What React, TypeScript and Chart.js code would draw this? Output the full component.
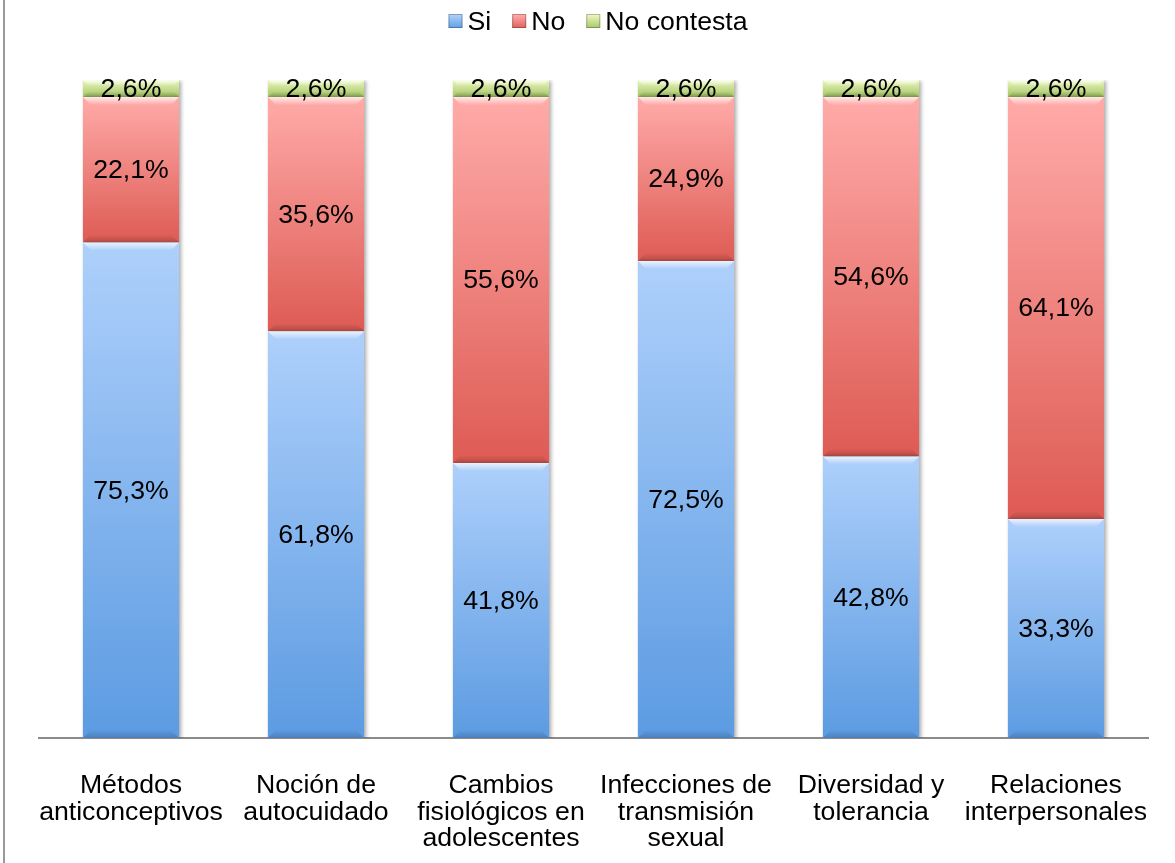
import React, { useEffect, useRef } from "react";
import { Chart, registerables } from "chart.js";

Chart.register(...registerables);

const categories: string[][] = [
  ["Métodos", "anticonceptivos"],
  ["Noción de", "autocuidado"],
  ["Cambios", "fisiológicos en", "adolescentes"],
  ["Infecciones de", "transmisión", "sexual"],
  ["Diversidad y", "tolerancia"],
  ["Relaciones", "interpersonales"],
];
const siValues = [75.3, 61.8, 41.8, 72.5, 42.8, 33.3];
const noValues = [22.1, 35.6, 55.6, 24.9, 54.6, 64.1];
const ncValues = [2.6, 2.6, 2.6, 2.6, 2.6, 2.6];
const seriesNames = ["Si", "No", "No contesta"];

const allSeries = [siValues, noValues, ncValues];
const gradStops: [string, string][] = [
  ["#aed0fb", "#5c9be2"],
  ["#ffaba9", "#de5b54"],
  ["#ecf7c0", "#a3c463"],
];
const FONT = '"Liberation Sans", Arial, sans-serif';
const FS = 26.67;

function makeBg(ds: number) {
  return (ctx: any) => {
    const chart = ctx.chart;
    const scales = chart.scales;
    if (!chart.chartArea || !scales || !scales.y || ctx.dataIndex === undefined) return gradStops[ds][1];
    const i = ctx.dataIndex;
    let base = 0;
    for (let k = 0; k < ds; k++) base += allSeries[k][i];
    const top = base + allSeries[ds][i];
    const y0 = scales.y.getPixelForValue(top);
    const y1 = scales.y.getPixelForValue(base);
    const g = chart.ctx.createLinearGradient(0, y0, 0, y1);
    g.addColorStop(0, gradStops[ds][0]);
    g.addColorStop(1, gradStops[ds][1]);
    return g;
  };
}

const frame = {
  id: "frame",
  beforeDraw(chart: any) {
    const c = chart.ctx;
    c.save();
    c.fillStyle = "#fff";
    c.fillRect(0, 0, chart.width, chart.height);
    c.strokeStyle = "#9a9a9a";
    c.lineWidth = 2;
    c.beginPath();
    c.moveTo(4, 0);
    c.lineTo(4, chart.height);
    c.stroke();
    c.restore();
  },
};

const customLegend = {
  id: "customLegend",
  afterDraw(chart: any) {
    const c = chart.ctx;
    c.save();
    c.font = `${FS}px ${FONT}`;
    c.textBaseline = "middle";
    c.textAlign = "left";
    const box = 14;
    const gapText = 5;
    const gapItem = 21;
    const widths = seriesNames.map((n) => box + gapText + c.measureText(n).width);
    const total = widths.reduce((a, b) => a + b, 0) + gapItem * (seriesNames.length - 1);
    let x = 598 - total / 2;
    const cy = 22;
    seriesNames.forEach((n, i) => {
      const g = c.createLinearGradient(0, cy - 7, 0, cy + 7);
      g.addColorStop(0, gradStops[i][0]);
      g.addColorStop(1, gradStops[i][1]);
      c.fillStyle = g;
      c.fillRect(x, cy - 8, box, box);
      c.strokeStyle = "rgba(0,0,0,0.25)";
      c.lineWidth = 1;
      c.strokeRect(x + 0.5, cy - 7.5, box - 1, box - 1);
      c.fillStyle = "#000";
      c.fillText(n, x + box + gapText, cy + 1);
      x += widths[i] + gapItem;
    });
    c.restore();
  },
};

const shadow = {
  id: "barShadow",
  beforeDatasetDraw(chart: any) {
    const c = chart.ctx;
    c.save();
    c.shadowColor = "rgba(0,0,0,0.35)";
    c.shadowBlur = 4;
    c.shadowOffsetX = 2;
    c.shadowOffsetY = 1;
  },
  afterDatasetDraw(chart: any) {
    chart.ctx.restore();
  },
};

const bevel = {
  id: "bevel",
  afterDatasetsDraw(chart: any) {
    const c = chart.ctx;
    c.save();
    chart.data.datasets.forEach((_: any, di: number) => {
      const meta = chart.getDatasetMeta(di);
      meta.data.forEach((el: any) => {
        const x0 = el.x - el.width / 2;
        const x1 = el.x + el.width / 2;
        const top = Math.min(el.y, el.base);
        const bot = Math.max(el.y, el.base);
        const h = bot - top;
        const bw = Math.min(8, h / 3);
        const gt = c.createLinearGradient(0, top, 0, top + bw);
        gt.addColorStop(0, "rgba(255,255,255,0.75)");
        gt.addColorStop(1, "rgba(255,255,255,0)");
        c.fillStyle = gt;
        c.beginPath();
        c.moveTo(x0, top);
        c.lineTo(x1, top);
        c.lineTo(x1 - bw, top + bw);
        c.lineTo(x0 + bw, top + bw);
        c.closePath();
        c.fill();
        const gb = c.createLinearGradient(0, bot - bw, 0, bot);
        gb.addColorStop(0, "rgba(0,0,0,0)");
        gb.addColorStop(1, "rgba(0,0,0,0.18)");
        c.fillStyle = gb;
        c.beginPath();
        c.moveTo(x0, bot);
        c.lineTo(x1, bot);
        c.lineTo(x1 - bw, bot - bw);
        c.lineTo(x0 + bw, bot - bw);
        c.closePath();
        c.fill();
      });
    });
    c.restore();
  },
};

const valueLabels = {
  id: "valueLabels",
  afterDatasetsDraw(chart: any) {
    const c = chart.ctx;
    c.save();
    c.font = `${FS}px ${FONT}`;
    c.fillStyle = "#000";
    c.textAlign = "center";
    c.textBaseline = "middle";
    chart.data.datasets.forEach((ds: any, di: number) => {
      const meta = chart.getDatasetMeta(di);
      meta.data.forEach((el: any, i: number) => {
        const v = ds.data[i] as number;
        const txt = v.toFixed(1).replace(".", ",") + "%";
        c.fillText(txt, el.x, (el.y + el.base) / 2 + 1);
      });
    });
    c.restore();
  },
};

export default function App() {
  const ref = useRef<HTMLCanvasElement>(null);
  useEffect(() => {
    document.body.style.margin = "0";
    const chart = new Chart(ref.current as HTMLCanvasElement, {
      type: "bar",
      data: {
        labels: categories as any,
        datasets: allSeries.map((vals, di) => ({
          label: seriesNames[di],
          data: vals,
          backgroundColor: makeBg(di) as any,
          borderWidth: 0,
          barPercentage: 0.52,
          categoryPercentage: 1,
        })),
      },
      options: {
        animation: false,
        responsive: false,
        devicePixelRatio: 1,
        layout: { padding: { left: 38.5, right: 26.5, top: 80, bottom: 0 } },
        plugins: {
          legend: { display: false },
          tooltip: { enabled: false },
        },
        scales: {
          x: {
            stacked: true,
            grid: { display: true, drawOnChartArea: false, drawTicks: false, color: "rgba(0,0,0,0)" },
            border: { display: true, color: "#8a8a8a", width: 2 },
            ticks: {
              font: { size: FS, family: FONT, lineHeight: 0.98 },
              color: "#000",
              padding: 35,
              maxRotation: 0,
              autoSkip: false,
            },
            afterFit: (s: any) => {
              s.height = 125;
              s.paddingLeft = 0;
              s.paddingRight = 0;
            },
          },
          y: {
            stacked: true,
            display: false,
            min: 0,
            max: 100,
          },
        },
      },
      plugins: [frame, shadow, bevel, valueLabels, customLegend],
    });
    return () => chart.destroy();
  }, []);
  return (
    <div style={{ width: 1175, height: 863 }}>
      <canvas ref={ref} width={1175} height={863} />
    </div>
  );
}
